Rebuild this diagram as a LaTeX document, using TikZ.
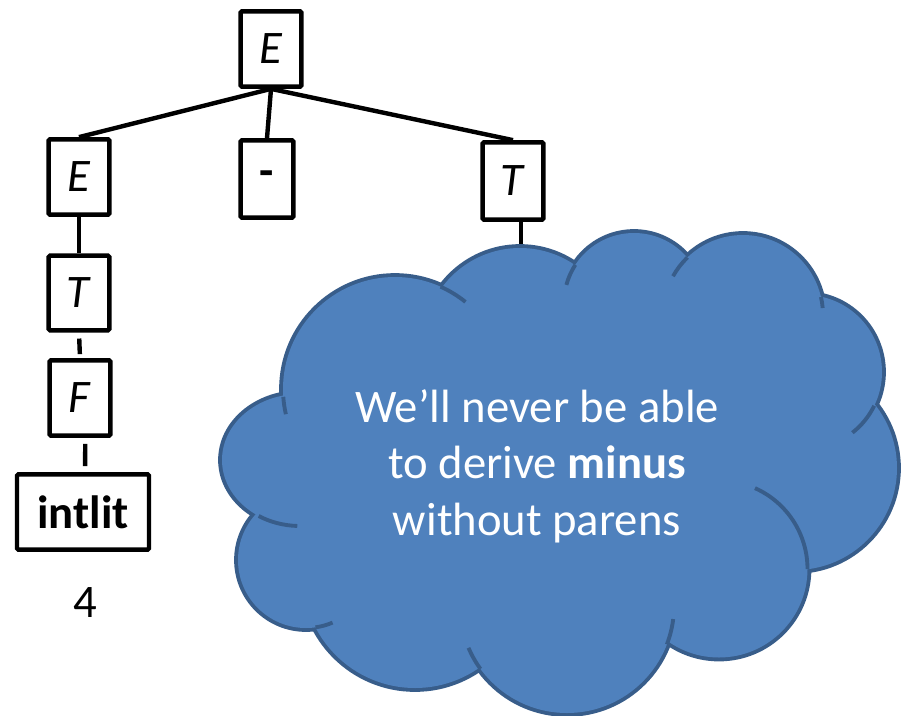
\documentclass[tikz,border=0pt]{standalone}
\usepackage{fontspec}
\setmainfont{Carlito}

\definecolor{cloudblue}{RGB}{79,129,189}
\definecolor{cloudrim}{RGB}{56,93,138}

\tikzset{
    sym/.style={draw,line width=3.3pt,rounded corners=1pt,inner sep=0pt,
        minimum width=45.5pt,minimum height=56.5pt,font=\fontsize{35}{42}\selectfont},
    branch/.style={line width=3.3pt},
    puff/.style={draw=cloudrim,line width=5.8pt},
    rim/.style={draw=cloudrim,line width=2.9pt},
}

\begin{document}
\begin{tikzpicture}[x=0.75pt,y=-0.75pt]
    \useasboundingbox (0,0) rectangle (903,715);

    % parse tree
    \node[sym] (E0) at (271,49) {\textit{E}};
    \node[sym] (E1) at (79,177) {\textit{E}};
    \node[sym,minimum width=39.5pt,minimum height=58pt] (minus) at (267,179) {\textbf{-}};
    \node[sym,minimum height=58pt] (T1) at (513,181) {\textit{T}};
    \node[sym,minimum height=56pt] (T2) at (79,293) {\textit{T}};
    \node[sym] (F) at (80,398) {\textit{F}};
    \node[sym,minimum width=99pt] (lit) at (83,512) {\textbf{intlit}};
    \node[font=\fontsize{35}{42}\selectfont] (four) at (85,603) {4};

    \draw[branch] (E0.south) -- (E1.north);
    \draw[branch] (E0.south) -- (minus.north);
    \draw[branch] (E0.south) -- (T1.north);
    \draw[branch] (E1.south) -- (T2.north);
    \draw[branch,shorten <=4.5pt,shorten >=3pt] (T2.south) -- (F.north);
    \draw[branch,shorten <=4.5pt,shorten >=4.5pt] ([xshift=4pt]F.south) -- ([xshift=1.5pt]lit.north);
    \coordinate (under) at (521,254);
    \draw[branch] (T1.south -| under) -- (under);

    % cloud: thick rims first, the fills then hide all but the outer edge
    \foreach \cx/\cy/\r in {395/389/112,520/345/97,634/303/70,743/315/80,805/372/77,
            795/468/102,719/569/88.5,567/606/107,415/576/112,306/560/68}
        \draw[puff] (\cx,\cy) circle[radius=\r];
    \draw[puff] (300,460) ellipse[x radius=78,y radius=66];
    \foreach \cx/\cy/\r in {395/389/112,520/345/97,634/303/70,743/315/80,805/372/77,
            795/468/102,719/569/88.5,567/606/107,415/576/112,306/560/68}
        \fill[cloudblue] (\cx,\cy) circle[radius=\r];
    \fill[cloudblue] (300,460) ellipse[x radius=78,y radius=66];
    \fill[cloudblue] (395,389) -- (520,345) -- (634,303) -- (743,315) -- (805,372)
        -- (795,468) -- (719,569) -- (567,606) -- (415,576) -- (306,560) -- (300,460) -- cycle;

    % short inner arcs
    \foreach \cx/\cy/\r/\a/\b in {395/389/112/176/167,395/389/112/-66/-51,
            634/303/70/213/195,743/315/80/226/209,743/315/80/-13/-5,
            805/372/77/26/52,719/569/88.5/-66/0,567/606/107/21/7,
            567/606/107/144/157,306/560/68/82/67}
        \draw[rim] (\cx,\cy) ++(\a:\r) arc[start angle=\a,end angle=\b,radius=\r];
    \draw[rim] (300,460) ++(122:78 and 66) arc[start angle=122,end angle=92,x radius=78,y radius=66];

    \node[text=white,align=center,font=\fontsize{35}{42.4}\selectfont] (note) at (537,466)
        {We’ll never be able\\to derive \textbf{minus}\\without parens};
\end{tikzpicture}
\end{document}
